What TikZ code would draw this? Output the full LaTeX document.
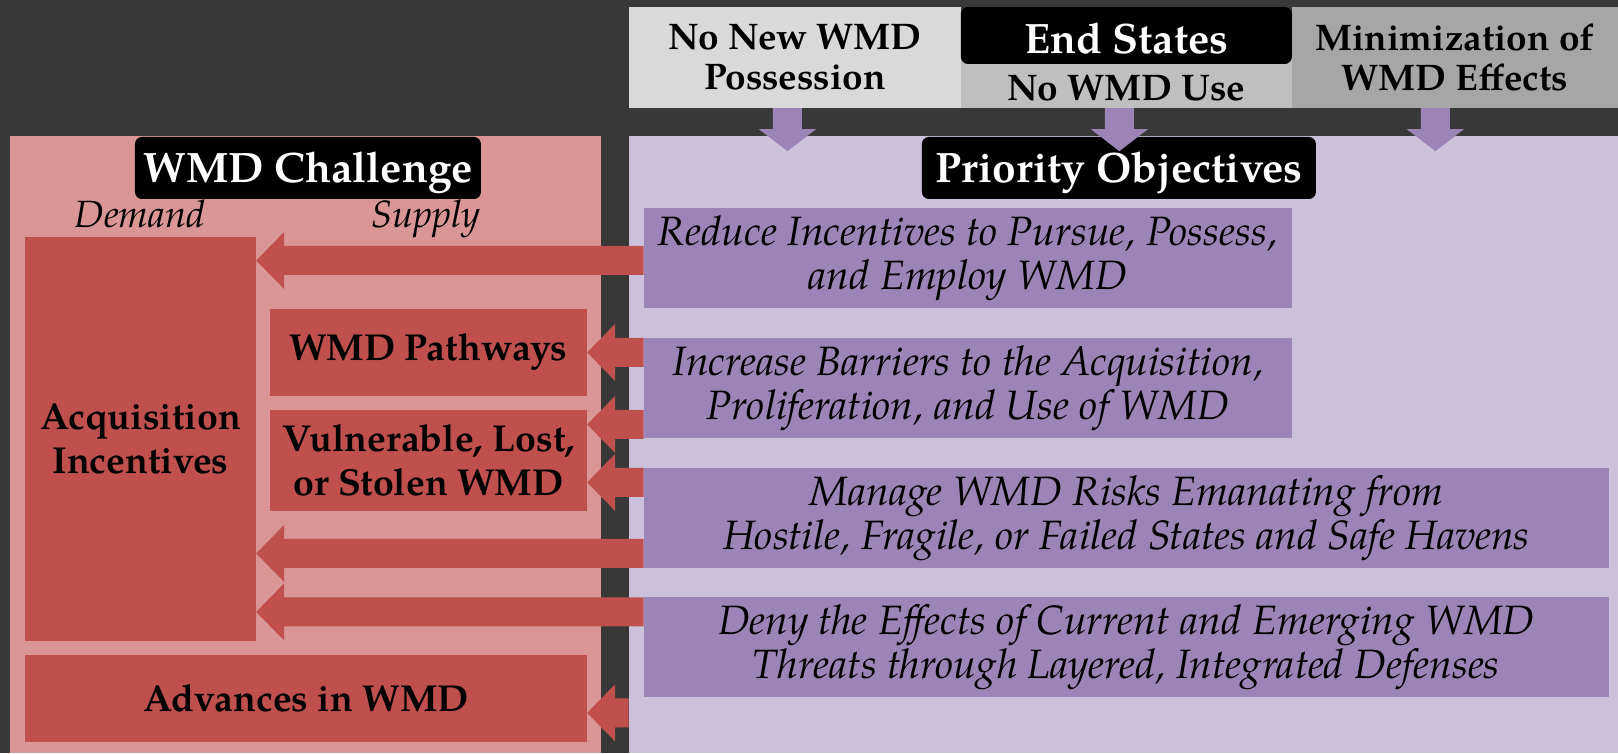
\documentclass[tikz,border=0pt]{standalone}
\usepackage{fontspec}
\setmainfont{texgyrepagella}[Extension=.otf,UprightFont=*-regular,BoldFont=*-bold,ItalicFont=*-italic,BoldItalicFont=*-bolditalic]
\usetikzlibrary{calc}
\definecolor{slate}{HTML}{383838}
\definecolor{chpink}{HTML}{D99694}
\definecolor{wmdred}{HTML}{C0504D}
\definecolor{oblav}{HTML}{CCC1DA}
\definecolor{objpurple}{HTML}{9B85B6}
\definecolor{greyA}{HTML}{D9D9D9}
\definecolor{greyB}{HTML}{BFBFBF}
\definecolor{greyC}{HTML}{A6A6A6}
\newcommand{\redarrow}[3]{%
  \coordinate (tl) at (#1 |- 0,#3);
  \coordinate (tp) at (#2 |- 0,#3);
  \fill[wmdred] ($(tl)+(0,-14.5)$) -- ($(tp)+(28,-14.5)$) -- ($(tp)+(28,-28.5)$) -- (tp)
    -- ($(tp)+(28,28.5)$) -- ($(tp)+(28,14.5)$) -- ($(tl)+(0,14.5)$) -- cycle;}
\newcommand{\purplearrow}[2]{%
  \coordinate (ds) at (#2,0 |- #1);
  \fill[objpurple] ($(ds)+(-14.5,0)$) -- ($(ds)+(-14.5,21)$) -- ($(ds)+(-28.5,21)$) -- ($(ds)+(0,43)$)
    -- ($(ds)+(28.5,21)$) -- ($(ds)+(14.5,21)$) -- ($(ds)+(14.5,0)$) -- cycle;}
\tikzset{
  panel/.style={rectangle, inner sep=0pt},
  endbox/.style={rectangle, inner sep=0pt, align=center, font=\fontsize{37}{40}\selectfont\bfseries},
  header/.style={rectangle, inner sep=0pt, fill=black, text=white, rounded corners=7pt,
    text height=29pt, text depth=0pt, font=\fontsize{42.5}{48}\selectfont\bfseries},
  sidelabel/.style={anchor=base, inner sep=0pt, font=\fontsize{38}{40}\selectfont\itshape},
  redbox/.style={rectangle, inner sep=0pt, fill=wmdred, align=center, font=\fontsize{37.5}{44.5}\selectfont\bfseries},
  objbox/.style={rectangle, inner sep=0pt, fill=objpurple, align=center, minimum height=100pt,
    font=\fontsize{41}{44}\selectfont\itshape}
}
\begin{document}
\begin{tikzpicture}[x=1pt,y=-1pt]
    \node[panel, fill=slate, anchor=north west, minimum width=1618pt, minimum height=753pt] (canvas) at (0,0) {};
    \useasboundingbox (0,0) rectangle (1618,753);

    % panels
    \node[panel, fill=chpink, minimum width=591pt, minimum height=617pt] (chpanel) at (305.5,444.5) {};
    \node[panel, fill=oblav, minimum width=989pt, minimum height=617pt] (obpanel) at (1123.5,444.5) {};

    % end states
    \node[endbox, fill=greyA, minimum width=332pt, minimum height=101pt] (possess) at (795,57.5) {No New WMD\\Possession};
    \node[endbox, fill=greyB, minimum width=331pt, minimum height=58pt, text height=44pt, text depth=0pt] (nouse) at (1126.5,79) {No WMD Use};
    \node[endbox, fill=greyC, minimum width=326pt, minimum height=101pt] (minim) at (1455,57.5) {Minimization of\\WMD Effects};
    \node[header, minimum width=331pt, minimum height=57pt, text height=37pt] (endst) at (1126.5,35.5) {End States};

    \node[header, minimum width=346pt, minimum height=62pt] (chhdr) at (308,168) {WMD Challenge};
    \node[header, minimum width=394pt, minimum height=62pt] (obhdr) at (1119,168) {Priority Objectives};

    \purplearrow{possess.south}{787.5}
    \purplearrow{nouse.south}{1119.5}
    \purplearrow{minim.south}{1435.5}

    \node[sidelabel] (demand) at (140,228) {Demand};
    \node[sidelabel] (supply) at (426,228) {Supply};

    % challenge side
    \node[redbox, minimum width=231pt, minimum height=404pt] (acq) at (140.5,439) {Acquisition\\Incentives};
    \node[redbox, minimum width=317pt, minimum height=87pt] (path) at (428.5,352.5) {WMD Pathways};
    \node[redbox, minimum width=317pt, minimum height=101pt] (vuln) at (428.5,460.5) {Vulnerable, Lost,\\or Stolen WMD};
    \node[redbox, minimum width=562pt, minimum height=87pt] (adv) at (306,698.5) {Advances in WMD};

    % objectives side
    \node[objbox, minimum width=648pt] (obj1) at (968,258) {Reduce Incentives to Pursue, Possess,\\and Employ WMD};
    \node[objbox, minimum width=648pt] (obj2) at (968,388) {Increase Barriers to the Acquisition,\\Proliferation, and Use of WMD};
    \node[objbox, minimum width=965pt] (obj3) at (1126.5,518) {Manage WMD Risks Emanating from\\Hostile, Fragile, or Failed States and Safe Havens};
    \node[objbox, minimum width=965pt] (obj4) at (1126.5,647) {Deny the Effects of Current and Emerging WMD\\Threats through Layered, Integrated Defenses};

    \redarrow{obj1.west}{acq.east}{260.5}
    \redarrow{obj2.west}{path.east}{352.5}
    \redarrow{obj2.west}{vuln.east}{424.5}
    \redarrow{obj3.west}{vuln.east}{482.5}
    \redarrow{obj3.west}{acq.east}{553.5}
    \redarrow{obj4.west}{acq.east}{612}
    \redarrow{obpanel.west}{adv.east}{713}
\end{tikzpicture}
\end{document}
